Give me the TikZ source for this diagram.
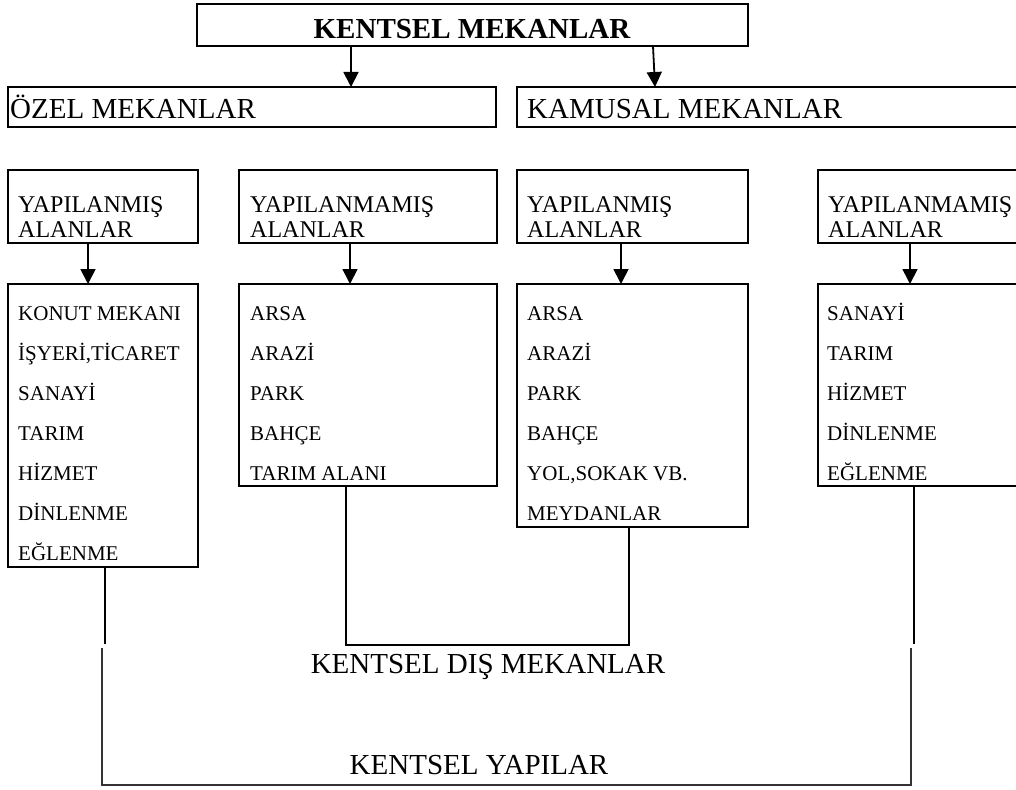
\documentclass[tikz,border=0pt]{standalone}
\usepackage{fontspec}
\setmainfont{Liberation Serif}
\usetikzlibrary{arrows.meta}
\begin{document}
\begin{tikzpicture}[x=1pt,y=-1pt,
  box/.style={draw,line width=2pt,rectangle,inner sep=0pt,outer sep=0pt,anchor=north west},
  arr/.style={line width=1.8pt,-{Triangle[length=15pt,width=15pt]}},
  link/.style={line width=2pt},
  brk/.style={line width=1.6pt,draw=black!80},
  item/.style={anchor=base west,inner sep=0pt,font=\fontsize{21}{25}\selectfont},
  head/.style={anchor=base west,inner sep=0pt,font=\fontsize{24}{25}\selectfont},
  big/.style={inner sep=0pt,font=\fontsize{29}{30}\selectfont}]
\clip (0,0) rectangle (1016,789);
% top level
\node[box,minimum width=551pt,minimum height=42pt] (top) at (197,4) {};
\node[big,anchor=base,font=\fontsize{29}{30}\selectfont\bfseries] (ttl) at (472,39) {KENTSEL MEKANLAR};
\node[box,minimum width=488pt,minimum height=40pt] (ozel) at (8,87) {};
\node[big,anchor=base west] (ozelt) at (10,118) {ÖZEL MEKANLAR};
\node[box,minimum width=520pt,minimum height=40pt] (kam) at (517,87) {};
\node[big,anchor=base west] (kamt) at (527,118) {KAMUSAL MEKANLAR};
\draw[arr] ([xshift=154pt]top.south west) -- ([xshift=343pt]ozel.north west);
\draw[arr] ([xshift=456pt]top.south west) -- ([xshift=138pt]kam.north west);
% header boxes
\node[box,minimum width=190pt,minimum height=73pt] (hb1) at (8,170) {};
\node[box,minimum width=258pt,minimum height=73pt] (hb2) at (239,170) {};
\node[box,minimum width=231pt,minimum height=73pt] (hb3) at (517,170) {};
\node[box,minimum width=220pt,minimum height=73pt] (hb4) at (818,170) {};
\node[head] (h1a) at (18,212) {YAPILANMIŞ};
\node[head] (h1b) at (18,237) {ALANLAR};
\node[head] (h2a) at (250,212) {YAPILANMAMIŞ};
\node[head] (h2b) at (250,237) {ALANLAR};
\node[head] (h3a) at (527,212) {YAPILANMIŞ};
\node[head] (h3b) at (527,237) {ALANLAR};
\node[head] (h4a) at (828,212) {YAPILANMAMIŞ};
\node[head] (h4b) at (828,237) {ALANLAR};
% content boxes
\node[box,minimum width=190pt,minimum height=283pt] (cb1) at (8,284) {};
\node[box,minimum width=258pt,minimum height=202pt] (cb2) at (239,284) {};
\node[box,minimum width=231pt,minimum height=243pt] (cb3) at (517,284) {};
\node[box,minimum width=220pt,minimum height=202pt] (cb4) at (818,284) {};
\draw[arr] ([xshift=80pt]hb1.south west) -- ([xshift=80pt]cb1.north west);
\draw[arr] ([xshift=111pt]hb2.south west) -- ([xshift=111pt]cb2.north west);
\draw[arr] ([xshift=104pt]hb3.south west) -- ([xshift=104pt]cb3.north west);
\draw[arr] ([xshift=92pt]hb4.south west) -- ([xshift=92pt]cb4.north west);
% items
\foreach \t [count=\i from 0] in {KONUT MEKANI,{İŞYERİ,TİCARET},SANAYİ,TARIM,HİZMET,DİNLENME,EĞLENME}
  \node[item] (a\i) at (18,320+40*\i) {\t};
\foreach \t [count=\i from 0] in {ARSA,ARAZİ,PARK,BAHÇE,TARIM ALANI}
  \node[item] (b\i) at (250,320+40*\i) {\t};
\foreach \t [count=\i from 0] in {ARSA,ARAZİ,PARK,BAHÇE,{YOL,SOKAK VB.},MEYDANLAR}
  \node[item] (c\i) at (527,320+40*\i) {\t};
\foreach \t [count=\i from 0] in {SANAYİ,TARIM,HİZMET,DİNLENME,EĞLENME}
  \node[item] (d\i) at (827,320+40*\i) {\t};
% bottom connectors
\draw[link] ([xshift=97pt]cb1.south west) -- ++(0,77);
\draw[link] ([xshift=107pt]cb2.south west) -- ++(0,159) -| ([xshift=112pt]cb3.south west);
\draw[link] ([xshift=96pt]cb4.south west) -- ++(0,158);
\node[big,anchor=base] (dis) at (488,673) {KENTSEL DIŞ MEKANLAR};
\coordinate (bl) at (102,648);
\coordinate (br) at (911,648);
\draw[brk] (bl) -- ++(0,137) -| (br);
\node[big,anchor=base] (yap) at (479,774) {KENTSEL YAPILAR};
\end{tikzpicture}
\end{document}
